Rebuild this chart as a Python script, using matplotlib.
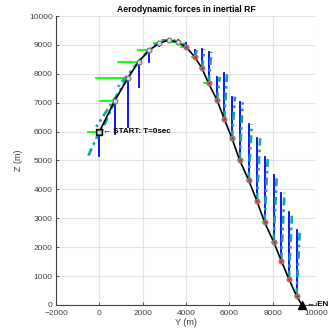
import numpy as np
import matplotlib.pyplot as plt

# trajectory sample points (Y, Z) in metres
traj_y = [0, 706, 1307, 1815, 2308, 2770, 3200, 3615, 4015, 4400, 4738, 5045,
          5432, 5769, 6124, 6476, 6892, 7277, 7631, 8046, 8400, 8754, 9108, 9354]
traj_z = [6000, 7060, 7844, 8420, 8824, 9055, 9170, 9090, 8917, 8590, 8190, 7670,
          7093, 6436, 5768, 5017, 4325, 3598, 2861, 2190, 1533, 900, 311, 0]

# aerodynamic force components (scaled to metres), one per point except the end
force_y = [-520, -660, -1450, -950, -540, -250, -300, -250, -230, -100, -80, -230,
           -60, -50, -50, -50, -50, -50, -50, -50, -50, -50, -50]
force_z = [-850, -1150, -1680, -865, -425, -80, 0, 80, 150, 230, 660, 1090,
           800, 1580, 1440, 2000, 1930, 2170, 2270, 2310, 2350, 2330, 2280]
# resultant force drawn dash-dot
total_y = [-520, -660, -1450, -950, -540, -250, -300, -200, -150, 100, 120, 130,
           130, 130, 140, 150, 150, 150, 150, 150, 150, 150, 150]
total_z = force_z

title = 'Aerodynamic forces in inertial RF'
xticks = [-2000, 0, 2000, 4000, 6000, 8000, 10000]
yticks = list(range(0, 10001, 1000))

fam = ['Liberation Sans', 'DejaVu Sans']
plt.rcParams['font.family'] = fam

fig = plt.figure(figsize=(3.28, 3.30), dpi=100)
ax = fig.add_axes([0.171, 0.0758, 0.792, 0.8757])

ty = np.array(traj_y, float)
tz = np.array(traj_z, float)
n = len(force_y)

for i in range(n):
    y0, z0 = ty[i], tz[i]
    ax.plot([y0, y0 + force_y[i]], [z0, z0], color='#00ff00', lw=1.3, zorder=3)
    ax.plot([y0, y0], [z0, z0 + force_z[i]], color='#0000ff', lw=1.3, zorder=3)
    ax.plot([y0, y0 + total_y[i]], [z0, z0 + total_z[i]], color='#17a2a2',
            lw=1.9, ls=(0, (3, 1.5, 1, 1.5)), zorder=4)

ax.plot(ty, tz, color='k', lw=1.2, zorder=5)
ax.plot(ty[:-1], tz[:-1], 'o', ms=3.5, mfc='#d8d8d8', mec='#707070', mew=0.8, zorder=6)
ax.plot(ty[8:-1], tz[8:-1], '.', ms=2.5, color='#e02020', zorder=7)

ax.plot(ty[0], tz[0], 's', ms=5, mfc='none', mec='k', mew=1.0, zorder=8)
ax.plot(ty[-1], tz[-1], '^', ms=6, color='k', zorder=8, clip_on=False)
ax.text(ty[0] + 150, tz[0], '\u2190 START: T=0sec', fontsize=5.8, fontweight='bold',
        va='center', ha='left', zorder=9)
ax.text(ty[-1] + 250, tz[-1], '\u2190 END', fontsize=5.8, fontweight='bold',
        va='center', ha='left', clip_on=False, zorder=9)

ax.set_xlim(-2000, 10000)
ax.set_ylim(0, 10000)
ax.set_xticks(xticks)
ax.set_yticks(yticks)
ax.grid(True, color='#e3e3e3', lw=0.8)
ax.set_axisbelow(True)
for s in ['top', 'right']:
    ax.spines[s].set_visible(False)
for s in ['left', 'bottom']:
    ax.spines[s].set_color('#404040')
    ax.spines[s].set_linewidth(0.8)
ax.tick_params(direction='in', length=2.5, width=0.6, labelsize=6, colors='#404040')
ax.tick_params(axis='x', pad=3.5)
ax.tick_params(axis='y', pad=2.5)
ax.set_title(title, fontsize=6.2, fontweight='bold', pad=3)
ax.set_xlabel('Y (m)', fontsize=6.5, color='#404040', labelpad=1)
ax.set_ylabel('Z (m)', fontsize=6.5, color='#404040', labelpad=4)

fig.savefig('out.png', dpi=100)
